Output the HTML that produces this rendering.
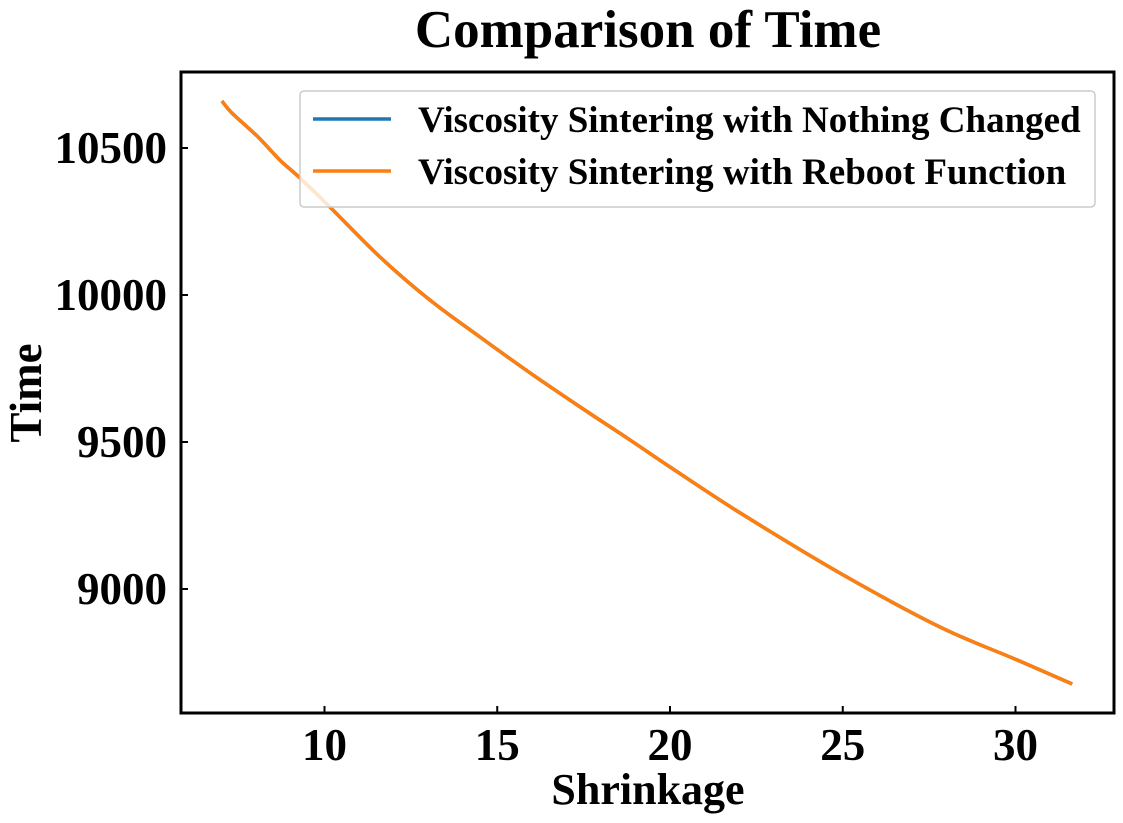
<!DOCTYPE html>
<html><head><meta charset="utf-8"><style>
body{margin:0;background:#fff;}
svg{display:block;font-family:"Liberation Serif",serif;font-weight:bold;}
</style></head><body>
<svg width="1123" height="823">
<g id="root"></g>
</svg>
<script>
const xs=[7.03,7.32,8.08,8.71,9.29,10.16,11.61,13.05,14.5,15.95,17.4,18.84,20.0,22.03,24.92,27.81,30.04,31.64];
const seriesNothing=[10660,10619,10537,10459,10398,10299,10129,9983,9857,9735,9619,9507,9415,9259,9054,8871,8759,8677];
const seriesReboot=[10660,10619,10537,10459,10398,10299,10129,9983,9857,9735,9619,9507,9415,9259,9054,8871,8759,8677];
const xTicks=[10,15,20,25,30];
const yTicks=[9000,9500,10000,10500];
const L=181,R=1114,T=72,B=713;
const sx=v=>670+(v-20)*34.55;
const sy=v=>295-(v-10000)*0.294;
const NS="http://www.w3.org/2000/svg";
const root=document.getElementById('root');
function mk(t,a,txt){const e=document.createElementNS(NS,t);for(const k in a)e.setAttribute(k,a[k]);if(txt!==undefined)e.textContent=txt;root.appendChild(e);return e;}
let e;
e=mk('text',{x:648,y:47,'text-anchor':'middle','font-size':53},'Comparison of Time');


xTicks.forEach(v=>{
 e=mk('line',{x1:sx(v),x2:sx(v),y1:B,y2:B-7,stroke:'#000','stroke-width':2});
 
 
 e=mk('text',{x:sx(v),y:760,'text-anchor':'middle','font-size':45},String(v));
 
 
});
yTicks.forEach(v=>{
 e=mk('line',{x1:L,x2:L+7,y1:sy(v),y2:sy(v),stroke:'#000','stroke-width':2});
 
 
 e=mk('text',{x:167,y:sy(v)+15,'text-anchor':'end','font-size':45},String(v));
 
 
});
e=mk('text',{x:648,y:804,'text-anchor':'middle','font-size':44},'Shrinkage');


e=mk('text',{x:0,y:0,'text-anchor':'middle','font-size':45,transform:'translate(41,393) rotate(-90)'},'Time');


function path(ys){
 const p=xs.map((x,i)=>[sx(x),sy(ys[i])]);
 let d='M'+p[0][0].toFixed(1)+','+p[0][1].toFixed(1);
 for(let i=0;i<p.length-1;i++){
  const p0=p[Math.max(0,i-1)],p1=p[i],p2=p[i+1],p3=p[Math.min(p.length-1,i+2)];
  const c1=[p1[0]+(p2[0]-p0[0])/6,p1[1]+(p2[1]-p0[1])/6];
  const c2=[p2[0]-(p3[0]-p1[0])/6,p2[1]-(p3[1]-p1[1])/6];
  d+='C'+c1.map(n=>n.toFixed(1)).join(',')+' '+c2.map(n=>n.toFixed(1)).join(',')+' '+p2.map(n=>n.toFixed(1)).join(',');
 }
 return d;
}
e=mk('path',{d:path(seriesNothing),fill:'none',stroke:'#1f77b4','stroke-width':3.5,'stroke-linejoin':'round'});


e=mk('path',{d:path(seriesReboot),fill:'none',stroke:'#ff7f0e','stroke-width':3.5,'stroke-linejoin':'round'});


e=mk('rect',{x:L,y:T,width:R-L,height:B-T,fill:'none',stroke:'#000','stroke-width':3});


e=mk('rect',{x:300,y:91,width:795,height:116,rx:4,fill:'#fff','fill-opacity':0.8,stroke:'#ccc','stroke-width':1.5});


[['#1f77b4','Viscosity Sintering with Nothing Changed',119],['#ff7f0e','Viscosity Sintering with Reboot Function',171]].forEach(([c,t,y])=>{
 e=mk('line',{x1:313,x2:391,y1:y,y2:y,stroke:c,'stroke-width':3.5});
 
 
 e=mk('text',{x:418,y:y+13,'font-size':37},t);
 
 
});
</script>
</body></html>
